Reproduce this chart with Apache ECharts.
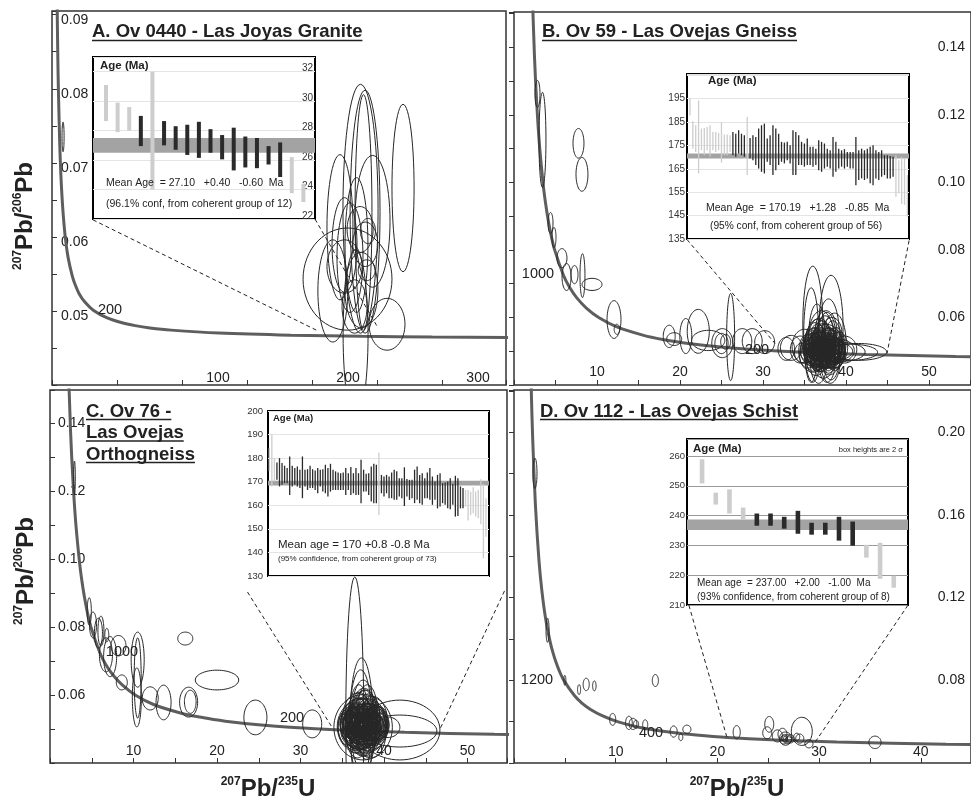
<!DOCTYPE html>
<html><head><meta charset="utf-8">
<script src="https://cdn.jsdelivr.net/npm/echarts@6/dist/echarts.min.js"></script>
<style>html,body{margin:0;padding:0;background:#fff}#c{width:971px;height:802px}</style>
</head><body><div id="c"></div>
<script>
// ---------- DATA ----------
// Concordia curve points: [238U/206Pb, 207Pb/206Pb]
const concordia = [[1.556,0.2524],[1.687,0.2226],[1.838,0.1968],[2.111,0.1643],[2.459,0.1378],[2.749,0.1230],[3.104,0.1100],[3.550,0.0987],[3.817,0.0936],[4.123,0.0888],[4.476,0.0843],[4.888,0.0801],[5.959,0.0725],[6.674,0.0690],[7.568,0.0658],[8.718,0.0628],[10.25,0.0599],[12.40,0.0572],[15.62,0.0547],[17.92,0.0535],[20.99,0.0523],[25.29,0.0512],[31.75,0.0501],[42.48,0.04905],[53.22,0.04843],[63.97,0.04802],[75.34,0.04771],[91.59,0.04741],[128.4,0.04701],[183.7,0.04672],[238.3,0.04657],[292.5,0.04647],[358.0,0.04640]];

// Error ellipses: [x centre, y centre, x half-axis, y half-axis]
const ellipsesA = [[237.3,0.0638,13.5,0.0168],[240.8,0.0634,11.5,0.0164],[239.6,0.0633,6.5,0.0159],[270.0,0.0666,8.5,0.0113],[221.5,0.0613,10.0,0.0098],[246.5,0.0621,13.5,0.0089],[227.3,0.0543,34.2,0.0069],[234.2,0.0589,8.8,0.0091],[225.0,0.0589,9.6,0.0064],[229.2,0.0572,10.0,0.0074],[257.7,0.0482,13.8,0.0035],[233.5,0.0468,9.6,0.0115],[216.0,0.0527,11.5,0.0069],[238.0,0.0528,12.7,0.0051],[241.0,0.0590,9.6,0.0030],[242.0,0.0555,6.5,0.0014],[225.0,0.0560,13.5,0.0036],[232.7,0.0506,9.6,0.0036],[237.0,0.0610,10.0,0.0031],[243.0,0.0608,5.8,0.0017],[8.5,0.0735,0.8,0.0020]];
const ellipsesB = [[2.83,0.1262,0.3,0.0040],[3.43,0.1126,0.42,0.0141],[7.77,0.1116,0.66,0.0044],[8.19,0.1024,0.72,0.0050],[4.40,0.0880,0.30,0.0031],[4.82,0.0837,0.24,0.0030],[5.78,0.0776,0.60,0.0028],[6.33,0.0720,0.54,0.0040],[7.29,0.0727,0.42,0.0027],[8.25,0.0724,0.30,0.0065],[9.40,0.0698,1.20,0.0018],[12.05,0.0594,0.84,0.0056],[12.4,0.0565,0.33,0.0015],[18.7,0.0544,0.72,0.0033],[19.3,0.0536,0.90,0.0019],[20.7,0.0545,0.72,0.0052],[22.2,0.0559,1.33,0.0065],[23.4,0.0532,2.0,0.0030],[25.1,0.0524,1.27,0.0043],[26.1,0.0542,0.48,0.0129],[25.0,0.0523,0.80,0.0030],[25.5,0.0528,0.6,0.0022],[27.5,0.0530,1.15,0.0037],[28.7,0.0530,1.20,0.0037],[30.2,0.0527,1.20,0.0034],[32.8,0.0507,1.00,0.0034],
[36.0,0.0580,1.2,0.0172],[38.2,0.0570,1.45,0.0155],[35.8,0.0548,0.9,0.0140],[37.9,0.0545,1.3,0.0110],[37.0,0.0530,1.6,0.0090],[38.6,0.0528,1.4,0.0085],[36.6,0.0520,1.5,0.0075],[37.6,0.0515,2.0,0.0065],[36.2,0.0510,1.3,0.0060],[38.0,0.0508,1.8,0.0055],[37.2,0.0505,2.2,0.0050],[36.8,0.0500,1.6,0.0045],[37.8,0.0498,1.4,0.0048],[36.4,0.0495,1.1,0.0040],[38.4,0.0502,1.2,0.0042],[37.4,0.0492,1.9,0.0038],[36.9,0.0512,1.0,0.0052],[37.5,0.0488,1.5,0.0036],[38.8,0.0510,1.1,0.0060],[35.9,0.0505,1.4,0.0048],[37.1,0.0520,1.2,0.0070],[37.7,0.0535,1.1,0.0080],[36.5,0.0540,1.0,0.0100],[38.3,0.0490,1.6,0.0040],[36.1,0.0490,1.7,0.0052],[37.3,0.0480,1.4,0.0060],[38.1,0.0475,1.2,0.0070],[36.7,0.0470,1.0,0.0065],[37.0,0.0495,2.5,0.0035],[38.0,0.0500,2.8,0.0030],[39.5,0.0498,2.8,0.0028],[40.5,0.0497,3.3,0.0024],[41.5,0.0498,3.4,0.0025],[39.0,0.0502,2.0,0.0035],[39.8,0.0505,1.5,0.0040],[33.4,0.0510,1.3,0.0037],[34.5,0.0505,1.2,0.0040],[35.0,0.0515,1.5,0.0050],[34.8,0.0495,1.0,0.0030],[37.6,0.0560,1.3,0.0060],[38.3,0.0555,1.2,0.0045],[36.3,0.0530,1.2,0.0055],[37.2,0.0505,0.8,0.0030],[37.9,0.0512,0.9,0.0032],[36.8,0.0508,0.7,0.0028],[37.4,0.0500,1.0,0.0025],[37.0,0.0515,1.8,0.0042],[38.6,0.0495,1.3,0.0045],
[36.5,0.0505,0.9,0.0035],[37.1,0.0498,1.2,0.0033],[37.7,0.0503,1.1,0.0036],[38.2,0.0512,1.0,0.0041],[36.3,0.0515,0.8,0.0038],[37.0,0.0525,1.1,0.0045],[37.9,0.0522,1.3,0.0047],[36.6,0.0492,1.3,0.0041],[37.4,0.0487,1.2,0.0039],[38.5,0.0518,1.0,0.0050],[36.0,0.0498,0.9,0.0034],[38.9,0.0500,0.9,0.0036],[37.3,0.0512,1.5,0.0028],[36.9,0.0520,1.4,0.0036],[37.6,0.0494,1.6,0.0030],[38.1,0.0506,1.4,0.0027],[36.7,0.0511,1.7,0.0031],[37.8,0.0528,0.9,0.0042],[36.2,0.0522,1.1,0.0046],[37.2,0.0532,1.2,0.0050],[38.4,0.0538,1.0,0.0052],[36.8,0.0540,1.3,0.0058],[37.5,0.0545,1.1,0.0060],[35.6,0.0508,0.8,0.0040],[39.2,0.0512,1.0,0.0045],[37.0,0.0485,1.0,0.0045],[38.0,0.0482,1.3,0.0052],[36.4,0.0478,1.2,0.0050],[37.7,0.0470,1.0,0.0062],[35.4,0.0500,1.1,0.0050],
[35.5,0.0512,0.7,0.0030],[35.8,0.0495,0.8,0.0032],[36.1,0.0520,0.9,0.0034],[36.4,0.0503,1.0,0.0030],[36.7,0.0490,0.8,0.0028],[37.0,0.0508,0.9,0.0026],[37.3,0.0518,0.8,0.0030],[37.6,0.0500,0.9,0.0028],[37.9,0.0490,0.8,0.0030],[38.2,0.0520,0.9,0.0032],[38.5,0.0508,0.8,0.0030],[38.8,0.0494,0.9,0.0032],[39.1,0.0505,0.8,0.0030],[36.2,0.0485,0.9,0.0030],[36.9,0.0530,0.8,0.0032],[37.5,0.0527,0.9,0.0030],[38.0,0.0535,0.8,0.0034],[36.5,0.0535,0.7,0.0032],[37.2,0.0478,0.9,0.0030],[38.3,0.0480,0.8,0.0032],[35.7,0.0530,0.7,0.0034],[39.0,0.0525,0.7,0.0032],[36.0,0.0475,0.8,0.0034],[37.8,0.0545,0.7,0.0030],[36.6,0.0548,0.8,0.0034],[37.1,0.0492,0.6,0.0022],[37.7,0.0512,0.6,0.0024],[36.3,0.0510,0.6,0.0022],[38.4,0.0496,0.6,0.0024],[37.4,0.0505,0.5,0.0020],[36.8,0.0522,0.6,0.0024],[38.1,0.0502,0.5,0.0022],[37.0,0.0540,0.6,0.0028],[37.9,0.0470,0.6,0.0028],[36.4,0.0468,0.6,0.0026]];
const ellipsesC = [[2.93,0.1238,0.10,0.0050],[4.7,0.0846,0.25,0.0040],[5.15,0.0806,0.42,0.0038],[5.8,0.0782,0.48,0.0044],[6.1,0.0788,0.36,0.0044],[6.8,0.0776,0.24,0.0020],[6.7,0.0718,0.78,0.0050],[7.2,0.0713,0.78,0.0059],[8.2,0.0745,0.90,0.0030],[8.6,0.0637,0.66,0.0022],[10.5,0.0704,0.78,0.0081],[10.5,0.0650,0.42,0.0118],[10.4,0.0593,0.54,0.0087],[12.0,0.0590,0.96,0.0034],[13.6,0.0578,0.90,0.0051],[16.6,0.0579,1.08,0.0044],[16.8,0.0580,0.70,0.0034],[16.2,0.0766,0.90,0.0019],[20.0,0.0644,2.60,0.0029],[24.6,0.0534,1.38,0.0051],[31.4,0.0515,1.14,0.0041],
[36.5,0.0517,1.08,0.043],[37.3,0.0517,1.4,0.0192],[37.2,0.0517,1.35,0.0157],[37.5,0.0510,1.5,0.0134],[41.9,0.0497,4.8,0.0088],[41.9,0.0494,4.43,0.0047],[40.5,0.0505,1.4,0.0030],[36.0,0.0512,1.2,0.0053],[37.5,0.0505,3.5,0.0096],[37.4,0.0507,3.0,0.0081],[37.8,0.0520,2.5,0.0070],[37.0,0.0515,2.2,0.0075],[38.2,0.0510,2.0,0.0065],[36.8,0.0525,1.8,0.0080],[38.5,0.0525,1.9,0.0072],[37.6,0.0530,1.6,0.0090],[37.0,0.0500,2.0,0.0060],[38.0,0.0495,2.4,0.0058],[37.5,0.0490,1.7,0.0070],[36.6,0.0505,1.5,0.0062],[38.8,0.0512,1.6,0.0060],[37.3,0.0522,1.2,0.0050],[37.9,0.0518,1.3,0.0055],[37.1,0.0508,1.1,0.0045],[38.3,0.0500,1.2,0.0048],[36.9,0.0530,1.3,0.0060],[37.7,0.0540,1.5,0.0075],[38.1,0.0535,1.4,0.0068],[37.4,0.0500,1.0,0.0040],[37.8,0.0505,0.9,0.0038],[36.4,0.0520,1.0,0.0048],[38.6,0.0505,1.1,0.0052],[37.2,0.0495,1.4,0.0052],[37.6,0.0485,1.5,0.0055],[38.4,0.0485,1.8,0.0070],[36.8,0.0480,1.3,0.0065],[37.0,0.0545,1.1,0.0085],[38.0,0.0550,1.2,0.0080],[37.5,0.0515,2.8,0.0052],[37.9,0.0512,0.8,0.0030],[37.3,0.0510,0.7,0.0028],[38.9,0.0520,1.2,0.0045],[35.8,0.0510,1.0,0.0045],[39.3,0.0508,1.3,0.0040],[36.2,0.0500,1.4,0.0050],
[37.0,0.0512,1.0,0.0036],[37.6,0.0508,1.2,0.0040],[38.1,0.0518,1.0,0.0042],[36.7,0.0515,0.9,0.0039],[37.3,0.0528,1.1,0.0046],[38.0,0.0525,1.3,0.0048],[36.9,0.0498,1.3,0.0042],[37.7,0.0494,1.2,0.0040],[38.6,0.0522,1.0,0.0050],[36.3,0.0508,0.9,0.0036],[39.0,0.0505,0.9,0.0038],[37.5,0.0518,1.6,0.0030],[37.1,0.0525,1.5,0.0038],[37.9,0.0500,1.7,0.0032],[38.4,0.0512,1.5,0.0030],[36.9,0.0515,1.8,0.0034],[37.8,0.0535,0.9,0.0044],[36.5,0.0528,1.1,0.0048],[37.4,0.0540,1.2,0.0052],[38.5,0.0542,1.0,0.0054],[37.0,0.0548,1.3,0.0060],[37.7,0.0552,1.1,0.0062],[35.9,0.0515,0.8,0.0042],[39.5,0.0518,1.0,0.0047],[37.2,0.0490,1.0,0.0047],[38.2,0.0486,1.3,0.0054],[36.6,0.0482,1.2,0.0052],[37.9,0.0475,1.0,0.0064],[35.6,0.0505,1.1,0.0052],[37.5,0.0500,2.2,0.0045],[38.0,0.0515,2.6,0.0060],[36.8,0.0505,2.3,0.0068],
[35.8,0.0520,0.7,0.0032],[36.1,0.0505,0.8,0.0034],[36.4,0.0530,0.9,0.0036],[36.7,0.0512,1.0,0.0032],[37.0,0.0498,0.8,0.0030],[37.3,0.0516,0.9,0.0028],[37.6,0.0526,0.8,0.0032],[37.9,0.0508,0.9,0.0030],[38.2,0.0498,0.8,0.0032],[38.5,0.0528,0.9,0.0034],[38.8,0.0516,0.8,0.0032],[39.1,0.0502,0.9,0.0034],[39.4,0.0514,0.8,0.0032],[36.5,0.0492,0.9,0.0032],[37.2,0.0538,0.8,0.0034],[37.8,0.0535,0.9,0.0032],[38.3,0.0544,0.8,0.0036],[36.8,0.0545,0.7,0.0034],[37.5,0.0486,0.9,0.0032],[38.6,0.0488,0.8,0.0034],[36.0,0.0540,0.7,0.0036],[39.3,0.0533,0.7,0.0034],[36.3,0.0482,0.8,0.0036],[38.1,0.0555,0.7,0.0032],[36.9,0.0558,0.8,0.0036],[37.4,0.0500,0.6,0.0024],[38.0,0.0520,0.6,0.0026],[36.6,0.0518,0.6,0.0024],[38.7,0.0504,0.6,0.0026],[37.7,0.0512,0.5,0.0022],[37.1,0.0530,0.6,0.0026],[38.4,0.0510,0.5,0.0024],[37.3,0.0550,0.6,0.0030],[38.2,0.0478,0.6,0.0030],[36.7,0.0476,0.6,0.0028],[37.0,0.0470,0.9,0.0040],[38.0,0.0465,1.0,0.0045],[37.5,0.0460,0.8,0.0040]];
const ellipsesD = [[2.06,0.1801,0.2,0.0073],[3.3,0.1042,0.15,0.0058],[5.0,0.0800,0.1,0.0024],[6.4,0.0755,0.15,0.0024],[7.1,0.0780,0.3,0.0030],[7.9,0.0773,0.17,0.0024],[13.9,0.0799,0.3,0.0029],[9.7,0.0611,0.3,0.0029],[11.3,0.0594,0.33,0.0032],[11.7,0.0589,0.38,0.0027],[12.0,0.0587,0.25,0.0020],[12.9,0.0585,0.25,0.0024],[15.7,0.0552,0.35,0.0027],[16.4,0.0525,0.2,0.0017],[17.0,0.0563,0.4,0.0020],[21.9,0.0549,0.35,0.0032],[25.1,0.0587,0.44,0.0038],[24.9,0.0546,0.44,0.0029],[25.9,0.0531,0.5,0.0029],[26.4,0.0539,0.44,0.0029],[26.7,0.0518,0.6,0.0032],[26.5,0.0512,0.35,0.0020],[26.9,0.0515,0.4,0.0022],[27.2,0.0517,0.35,0.0020],[26.6,0.0520,0.3,0.0018],[27.0,0.0512,0.3,0.0015],[28.3,0.0553,1.03,0.0068],[28.1,0.0518,0.4,0.0022],[29.0,0.0493,0.4,0.0020],[35.5,0.0500,0.6,0.0030],[27.8,0.0526,0.3,0.0018]];

// Zoom guide lines (dashed), endpoints in each panel's data units
const guidesA = [[[31.5,0.0623],[204.6,0.0473]],[[202.3,0.0624],[250.8,0.0477]]];
const guidesB = [[[20.84,0.0831],[31.45,0.0523]],[[47.6,0.0828],[44.94,0.0493]]];
const guidesC = [[[23.65,0.0903],[33.83,0.0503]],[[54.43,0.0906],[46.65,0.0497]]];
const guidesD = [[[17.2,0.1163],[20.94,0.0524]],[[38.74,0.1163],[29.6,0.0500]]];

// Inset age bars (Ma): high, low, used in mean (1) or rejected (0)
const agesA_hi = [31.1,29.9,29.6,29.0,32.0,28.65,28.3,28.4,28.6,28.1,27.7,28.2,27.6,27.5,26.95,27.2,26.2,24.4];
const agesA_lo = [28.65,27.9,28.0,26.95,24.0,27.0,26.7,26.35,26.15,26.5,26.05,25.3,25.5,25.45,25.7,24.85,23.75,23.15];
const agesA_use = [0,0,0,1,0,1,1,1,1,1,1,1,1,1,1,1,0,0];
const meanA = [26.5,27.5];

const agesB_hi = [195.0,185.3,183.6,194.2,182.2,182.4,182.9,183.6,180.7,180.7,180.3,185.0,179.6,179.6,179.3,
180.7,180.0,181.5,180.0,179.3,187.1,
178.2,179.3,178.6,182.2,183.6,184.3,177.9,179.3,183.6,182.2,180.0,176.5,176.2,176.5,175.1,181.5,180.7,179.3,176.5,175.8,177.9,174.4,174.4,173.6,177.2,176.5,175.8,173.6,172.9,178.6,176.5,173.6,172.9,173.4,172.2,172.2,172.2,178.6,172.9,173.6,172.9,173.6,174.4,175.1,172.9,172.2,172.9,170.8,170.8,170.5,170.1,
170.8,168.7,170.0,169.4,162.3];
const agesB_lo = [187.8,173.6,172.2,163.0,172.9,170.8,172.9,170.1,172.9,172.2,172.9,167.7,170.8,170.8,172.2,
170.8,170.1,171.5,170.8,170.1,162.3,
169.4,168.7,166.6,165.1,163.7,163.0,168.0,166.6,162.3,164.4,166.6,168.0,167.3,168.7,167.3,162.3,162.3,166.6,166.6,165.9,166.6,166.6,165.9,166.6,164.4,163.7,165.1,165.9,165.1,161.6,163.7,165.1,165.9,165.1,165.9,165.1,165.1,158.0,160.2,160.9,160.2,160.9,158.8,158.0,160.9,160.2,161.6,162.3,160.9,160.9,161.6,
153.1,154.5,150.0,149.6,144.6];
const agesB_use = [0,0,0,0,0,0,0,0,0,0,0,0,0,0,0, 1,1,1,1,1,0,
1,1,1,1,1,1,1,1,1,1,1,1,1,1,1,1,1,1,1,1,1,1,1,1,1,1,1,1,1,1,1,1,1,1,1,1,1,1,1,1,1,1,1,1,1,1,1,1,1,1,1,
0,0,0,0,0];
const meanB = [169.4,171.5];

const agesC_hi = [184.3,190.0,180.0,
178.2,180.0,177.9,176.8,175.8,180.7,176.8,175.8,176.5,175.1,180.7,175.1,175.3,176.8,175.3,174.8,175.8,175.1,175.3,177.2,175.8,177.6,175.1,174.4,173.9,173.6,173.9,175.8,173.6,176.2,173.6,175.8,173.6,179.3,175.1,173.4,173.6,176.5,177.6,177.2,
182.4,
172.9,172.2,172.9,172.2,173.9,175.1,174.4,171.5,171.5,176.1,171.1,170.8,170.8,175.1,176.5,172.9,173.6,171.5,173.9,175.8,172.2,170.1,172.9,173.6,169.4,169.7,170.1,171.5,169.1,172.5,171.5,168.0,167.3,
166.5,166.5,165.8,167.7,165.8,166.5,171.0,169.0,163.0];
const agesC_lo = [174.4,168.0,170.1,
170.8,168.0,168.7,169.4,169.4,164.4,168.0,168.7,168.0,167.3,163.0,168.0,166.5,167.3,167.3,166.5,165.1,168.0,165.8,165.1,163.7,165.8,166.5,166.5,166.5,166.5,166.5,164.4,166.5,164.4,165.1,164.4,164.4,160.9,165.8,165.8,164.4,161.6,160.9,160.9,
155.9,
165.1,163.7,165.1,163.0,163.0,162.3,162.3,163.7,163.0,159.7,163.7,162.3,163.0,160.9,162.3,160.9,160.2,163.0,163.0,162.3,160.2,162.3,158.7,159.5,160.9,160.2,158.7,158.3,160.2,155.2,155.5,158.7,158.7,
159.5,153.5,155.9,156.6,155.2,154.5,152.0,137.5,146.7];
const agesC_use = [0,0,0,
1,1,1,1,1,1,1,1,1,1,1,1,1,1,1,1,1,1,1,1,1,1,1,1,1,1,1,1,1,1,1,1,1,1,1,1,1,1,1,1,
0,
1,1,1,1,1,1,1,1,1,1,1,1,1,1,1,1,1,1,1,1,1,1,1,1,1,1,1,1,1,1,1,1,1,
0,0,0,0,0,0,0,0,0];
const meanC = [168.4,170.4];

const agesD_hi = [258.9,247.7,248.8,242.7,240.7,240.7,239.6,241.6,237.6,237.6,239.6,238.0,230.2,230.9,219.8];
const agesD_lo = [250.8,243.7,240.7,238.7,236.6,236.6,235.6,233.9,233.6,233.6,231.6,229.9,225.9,218.8,215.8];
const agesD_use = [0,0,0,0,1,1,1,1,1,1,1,1,0,0,0];
const meanD = [235.2,238.7];

// ---------- BUILD ----------
const FONT = "'Liberation Sans', Arial, Helvetica, sans-serif";
const mctx = document.createElement('canvas').getContext('2d');
function tw(t, size, bold){ mctx.font = (bold?'bold ':'') + size + 'px ' + FONT; return mctx.measureText(t).width; }

function ellipseSeries(g, data){
  return {type:'custom', xAxisIndex:g, yAxisIndex:g, clip:true, z:3, silent:true,
    data:data, encode:{x:0, y:1},
    renderItem:function(params, api){
      const cx = api.value(0), cy = api.value(1);
      const c = api.coord([cx, cy]);
      const s = api.size([api.value(2), api.value(3)], [cx, cy]);
      const pts = [];
      for (let k=0;k<60;k++){ const t=k/60*2*Math.PI; pts.push([c[0]+s[0]*Math.cos(t), c[1]+s[1]*Math.sin(t)]); }
      return {type:'polygon', shape:{points:pts}, style:{fill:'none', stroke:'#262626', lineWidth:1}};
    }};
}
function curveSeries(g){
  return {type:'line', xAxisIndex:g, yAxisIndex:g, data:concordia, showSymbol:false, smooth:0.3,
    clip:true, silent:true, z:2, lineStyle:{color:'#5e5e5e', width:3}};
}
function guideSeries(g, segs){
  return segs.map(s => ({type:'line', xAxisIndex:g, yAxisIndex:g, data:s, showSymbol:false, silent:true, z:4,
    lineStyle:{color:'#222', width:1, type:[4,3]}}));
}
function barSeries(g, hi, lo, use, w){
  const data = hi.map((h,i)=>[i+1, lo[i], h, use[i]]);
  return {type:'custom', xAxisIndex:g, yAxisIndex:g, z:5, silent:true, data:data, encode:{x:0, y:[1,2]},
    renderItem:function(params, api){
      const p1 = api.coord([api.value(0), api.value(2)]);
      const p2 = api.coord([api.value(0), api.value(1)]);
      return {type:'rect', shape:{x:p1[0]-w/2, y:p1[1], width:w, height:p2[1]-p1[1]},
        style:{fill: api.value(3) ? '#2a2a2a' : '#cdcdcd'}};
    }};
}
function bandSeries(g, band, xmid){
  return {type:'custom', xAxisIndex:g, yAxisIndex:g, z:4, silent:true, data:[[xmid, band[0], band[1]]], encode:{x:0, y:[1,2]},
    renderItem:function(params, api){
      const cs = params.coordSys;
      const y1 = api.coord([api.value(0), api.value(2)])[1];
      const y0 = api.coord([api.value(0), api.value(1)])[1];
      return {type:'rect', shape:{x:cs.x, y:y1, width:cs.width, height:y0-y1}, style:{fill:'#a3a3a3'}};
    }};
}

const mainGrid = (l,t,w,h) => ({left:l, top:t, width:w, height:h, show:true, borderColor:'#333', borderWidth:1.5, backgroundColor:'transparent', containLabel:false, outerBoundsMode:'none'});
const insetGrid = (l,t,w,h) => ({left:l, top:t, width:w, height:h, show:true, borderColor:'#000', borderWidth:2, backgroundColor:'#fff', containLabel:false, outerBoundsMode:'none'});

const lab = (extra) => Object.assign({fontFamily:FONT, fontSize:14, color:'#222'}, extra);
function hundredths(v, step, minK){
  const k = Math.round(v*100);
  if (Math.abs(v*100-k) > 1e-6) return '';
  if (k % step !== 0 || k < minK) return '';
  return (k/100).toFixed(2);
}
const tick = {inside:true, length:5, lineStyle:{color:'#333', width:1}};
const noLine = {show:false};

const xAxis = [
  {gridIndex:0, type:'value', min:0, max:349.2, interval:50, axisLine:noLine, splitLine:noLine, axisTick:tick,
   axisLabel:lab({inside:true, margin:0, padding:[0,0,0,72], formatter:v => (v>0 && v%100===0) ? String(v) : ''})},
  {gridIndex:1, type:'value', min:0, max:55.06, interval:5, axisLine:noLine, splitLine:noLine, axisTick:tick,
   axisLabel:lab({inside:true, margin:6, formatter:v => (v>0 && v%10===0) ? String(v) : ''})},
  {gridIndex:2, type:'value', min:0, max:54.73, interval:5, axisLine:noLine, splitLine:noLine, axisTick:tick,
   axisLabel:lab({inside:true, margin:5, formatter:v => (v>0 && v%10===0) ? String(v) : ''})},
  {gridIndex:3, type:'value', min:0, max:44.94, interval:5, axisLine:noLine, splitLine:noLine, axisTick:tick,
   axisLabel:lab({inside:true, margin:4, formatter:v => (v>0 && v%10===0) ? String(v) : ''})},
  {gridIndex:4, type:'value', min:-0.12, max:19.0, show:false},
  {gridIndex:5, type:'value', min:-0.05, max:77.57, show:false},
  {gridIndex:6, type:'value', min:0.49, max:87.2, show:false},
  {gridIndex:7, type:'value', min:-0.1, max:16.04, show:false}
];
const yAxis = [
  {gridIndex:0, type:'value', position:'left', min:0.04, max:0.0905, interval:0.005, axisLine:noLine, splitLine:noLine, axisTick:tick,
   axisLabel:lab({inside:true, margin:9, verticalAlign:'top', lineHeight:10, formatter:v => hundredths(v,1,5)})},
  {gridIndex:1, type:'value', position:'right', min:0.04, max:0.1505, interval:0.01, axisLine:noLine, splitLine:noLine, axisTick:tick,
   axisLabel:lab({inside:true, margin:6, formatter:v => hundredths(v,2,6)})},
  {gridIndex:2, type:'value', position:'left', min:0.04, max:0.1497, interval:0.01, axisLine:noLine, splitLine:noLine, axisTick:tick,
   axisLabel:lab({inside:true, margin:8, formatter:v => hundredths(v,2,6)})},
  {gridIndex:3, type:'value', position:'right', min:0.04, max:0.2204, interval:0.02, axisLine:noLine, splitLine:noLine, axisTick:tick,
   axisLabel:lab({inside:true, margin:6, formatter:v => hundredths(v,4,8)})},
  {gridIndex:4, type:'value', position:'right', min:22, max:33, interval:2, axisLine:noLine, axisTick:noLine,
   splitLine:{show:true, lineStyle:{color:'#e4e4e4', width:1}},
   axisLabel:lab({inside:true, margin:2, fontSize:10, color:'#333', verticalAlign:'bottom', lineHeight:6, formatter:v => v<=32 ? String(v) : ''})},
  {gridIndex:5, type:'value', position:'left', min:135, max:205.5, interval:10, axisLine:noLine, axisTick:noLine,
   splitLine:{show:true, lineStyle:{color:'#e4e4e4', width:1}},
   axisLabel:lab({margin:2, fontSize:10, color:'#333', formatter:v => v<=195 ? String(v) : ''})},
  {gridIndex:6, type:'value', position:'left', min:130, max:200, interval:10, axisLine:noLine, axisTick:noLine,
   splitLine:{show:true, lineStyle:{color:'#e4e4e4', width:1}},
   axisLabel:lab({margin:5, fontSize:9.5, color:'#333', formatter:v => String(v)})},
  {gridIndex:7, type:'value', position:'left', min:210, max:265.7, interval:10, axisLine:noLine, axisTick:noLine,
   splitLine:{show:true, lineStyle:{color:'#9a9a9a', width:1}},
   axisLabel:lab({margin:2, fontSize:9.5, color:'#333', formatter:v => v<=260 ? String(v) : ''})}
];

const series = [
  curveSeries(0), curveSeries(1), curveSeries(2), curveSeries(3),
  ellipseSeries(0, ellipsesA), ellipseSeries(1, ellipsesB), ellipseSeries(2, ellipsesC), ellipseSeries(3, ellipsesD),
  ...guideSeries(0, guidesA), ...guideSeries(1, guidesB), ...guideSeries(2, guidesC), ...guideSeries(3, guidesD),
  bandSeries(4, meanA, 9), barSeries(4, agesA_hi, agesA_lo, agesA_use, 4),
  bandSeries(5, meanB, 38), barSeries(5, agesB_hi, agesB_lo, agesB_use, 1.3),
  bandSeries(6, meanC, 43), barSeries(6, agesC_hi, agesC_lo, agesC_use, 1.3),
  bandSeries(7, meanD, 8), barSeries(7, agesD_hi, agesD_lo, agesD_use, 4.6)
];

// ---------- TEXT ----------
function txt(text, x, y, size, o){
  o = o || {};
  const al = o.align || 'left';
  return {type:'text', x:x, y:y, z:100, silent:true, rotation:o.rot||0,
    style:{text:text, fontSize:size, fontFamily:FONT, fontWeight:o.bold?'bold':'normal', fill:o.color||'#222',
      align:al, textAlign:al, verticalAlign:'middle', textVerticalAlign:'middle', rich:o.rich}};
}
function titled(text, x, y, uy){
  const w = tw(text, 18.5, true);
  return [txt(text, x, y, 18.5, {bold:true}),
    {type:'line', z:100, silent:true, shape:{x1:x, y1:uy, x2:x+w, y2:uy}, style:{stroke:'#222', lineWidth:1.5}}];
}
const richAxis = {
  s:{fontSize:12, fontWeight:'bold', fontFamily:FONT, fill:'#222', verticalAlign:'top'},
  b:{fontSize:24, fontWeight:'bold', fontFamily:FONT, fill:'#222', lineHeight:26}
};
const yTitle = '{s|207}{b|Pb/}{s|206}{b|Pb}';
const xTitle = '{s|207}{b|Pb/}{s|235}{b|U}';

const graphics = [
  ...titled('A. Ov 0440 - Las Joyas Granite', 92, 31.5, 40.5),
  ...titled('B. Ov 59 - Las Ovejas Gneiss', 542, 31.5, 40.5),
  ...titled('C. Ov 76 -', 86, 411.5, 419.5),
  ...titled('Las Ovejas', 86, 433, 441),
  ...titled('Orthogneiss', 86, 454.5, 462.5),
  ...titled('D. Ov 112 - Las Ovejas Schist', 540, 411.5, 419.5),
  txt(yTitle, 25, 216, 24, {align:'center', rot:Math.PI/2, rich:richAxis}),
  txt(yTitle, 26, 571, 24, {align:'center', rot:Math.PI/2, rich:richAxis}),
  txt(xTitle, 268, 789, 24, {align:'center', rich:richAxis}),
  txt(xTitle, 737, 789, 24, {align:'center', rich:richAxis}),
  // concordia age labels
  txt('200', 110, 310, 14.5, {align:'center'}),
  txt('1000', 538, 274, 14.5, {align:'center'}),
  txt('200', 757, 350, 14.5, {align:'center'}),
  txt('1000', 122, 652, 14.5, {align:'center'}),
  txt('200', 292, 718, 14.5, {align:'center'}),
  txt('1200', 537, 680, 14.5, {align:'center'}),
  txt('400', 651, 733, 14.5, {align:'center'}),
  // inset A
  txt('Age (Ma)', 100, 66, 11.5, {bold:true}),
  txt('Mean Age  = 27.10   +0.40   -0.60  Ma', 106, 183, 10.5),
  txt('(96.1% conf, from coherent group of 12)', 106, 204, 10.5),
  // inset B
  txt('Age (Ma)', 708, 81, 11.5, {bold:true}),
  txt('Mean Age  = 170.19   +1.28   -0.85  Ma', 706, 208, 10.5),
  txt('(95% conf, from coherent group of 56)', 710, 226, 10.2),
  // inset C
  txt('Age (Ma)', 273, 418, 9.5, {bold:true}),
  txt('Mean age = 170 +0.8 -0.8 Ma', 278, 545, 11.5),
  txt('(95% confidence, from coherent group of 73)', 278, 559, 8),
  // inset D
  txt('Age (Ma)', 693, 449, 11.5, {bold:true}),
  txt('box heights are 2 σ', 903, 450, 7.5, {align:'right'}),
  txt('Mean age  = 237.00   +2.00   -1.00  Ma', 697, 583, 10),
  txt('(93% confidence, from coherent group of 8)', 697, 597, 10)
];

const chart = echarts.init(document.getElementById('c'), null, {renderer:'canvas', width:971, height:802});
chart.setOption({
  animation:false,
  backgroundColor:'#ffffff',
  textStyle:{fontFamily:FONT},
  grid:[
    mainGrid(52,11,454,374), mainGrid(514,12,457,373), mainGrid(50,390,457,373), mainGrid(514,390,457,373),
    insetGrid(93,57,222,162), insetGrid(687,74,222,165), insetGrid(268,411,221,165), insetGrid(687,439,221,166)
  ],
  xAxis:xAxis, yAxis:yAxis, series:series, graphic:graphics
});
</script></body></html>
